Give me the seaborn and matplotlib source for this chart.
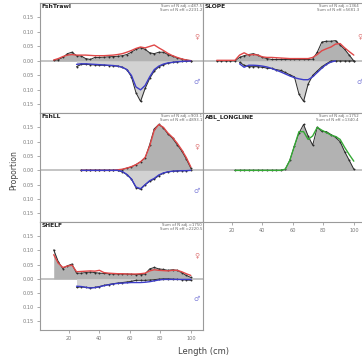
import numpy as np
import pandas as pd
import matplotlib
matplotlib.use("Agg")
import matplotlib.pyplot as plt
import seaborn as sns

sns.set_theme(style="white")
plt.rcParams['font.family'] = ['DejaVu Sans']

# ---------------- data ----------------
lengths = [10, 13, 16, 19, 22, 25, 28, 31, 34, 37, 40, 43, 46, 49, 52, 55,
           58, 61, 64, 67, 70, 73, 76, 79, 82, 85, 88, 91, 94, 97, 100]
N = None

trawl_f_obs = [0.002, 0.004, 0.012, 0.025, 0.030, 0.018, 0.017, 0.008, 0.005, 0.012, 0.012,
               0.013, 0.014, 0.015, 0.016, 0.018, 0.022, 0.030, 0.040, 0.046, 0.040, 0.028,
               0.025, 0.030, 0.030, 0.022, 0.016, 0.011, 0.006, 0.003, 0.001]
trawl_f_exp = [0.003, 0.008, 0.015, 0.020, 0.022, 0.020, 0.020, 0.020, 0.019, 0.018, 0.018,
               0.018, 0.019, 0.020, 0.022, 0.025, 0.030, 0.036, 0.043, 0.048, 0.045, 0.050,
               0.055, 0.045, 0.036, 0.026, 0.018, 0.012, 0.007, 0.003, 0.001]
trawl_m_obs = [N, N, N, N, N, -0.020, -0.012, -0.012, -0.013, -0.014, -0.015, -0.015, -0.016,
               -0.017, -0.018, -0.022, -0.030, -0.055, -0.110, -0.140, -0.095, -0.060, -0.035,
               -0.020, -0.013, -0.008, -0.005, -0.003, -0.002, -0.001, 0.000]
trawl_m_exp = [N, N, N, N, N, -0.012, -0.010, -0.010, -0.011, -0.012, -0.013, -0.014, -0.015,
               -0.016, -0.018, -0.022, -0.030, -0.050, -0.090, -0.100, -0.085, -0.055, -0.030,
               -0.018, -0.011, -0.007, -0.005, -0.003, -0.002, -0.001, 0.000]

slope_f_obs = [0.0, 0.0, 0.0, 0.0, 0.0, 0.012, 0.018, 0.022, 0.025, 0.020, 0.012, 0.008, 0.005,
               0.005, 0.005, 0.005, 0.005, 0.005, 0.005, 0.005, 0.005, 0.006, 0.030, 0.065,
               0.068, 0.068, 0.070, 0.055, 0.040, 0.020, 0.000]
slope_f_exp = [0.002, 0.002, 0.002, 0.002, 0.002, 0.020, 0.028, 0.020, 0.022, 0.020, 0.014,
               0.012, 0.012, 0.011, 0.010, 0.009, 0.008, 0.008, 0.008, 0.008, 0.008, 0.012,
               0.022, 0.035, 0.042, 0.048, 0.058, 0.060, 0.045, 0.032, 0.020]
slope_m_obs = [N, N, N, N, N, -0.005, -0.015, -0.020, -0.020, -0.020, -0.022, -0.025, -0.026,
               -0.030, -0.033, -0.040, -0.048, -0.055, -0.115, -0.140, -0.080, -0.050, -0.035,
               -0.020, -0.010, 0.000, 0.000, 0.000, 0.000, 0.000, 0.000]
slope_m_exp = [N, N, N, N, N, -0.010, -0.022, -0.015, -0.015, -0.016, -0.018, -0.021, -0.026,
               -0.032, -0.038, -0.045, -0.052, -0.058, -0.062, -0.065, -0.065, -0.055, -0.040,
               -0.025, -0.012, -0.004, 0.000, N, N, N, N]

ll_f_obs = [N, N, N, N, N, N, 0.0, 0.0, 0.0, 0.0, 0.0, 0.0, 0.0, 0.0, 0.001, 0.003, 0.008,
            0.012, 0.020, 0.030, 0.042, 0.090, 0.145, 0.160, 0.148, 0.127, 0.112, 0.090,
            0.068, 0.040, 0.008]
ll_f_exp = [N, N, N, N, N, N, 0.0, 0.0, 0.0, 0.0, 0.0, 0.0, 0.0, 0.0, 0.002, 0.004, 0.008,
            0.013, 0.020, 0.030, 0.045, 0.085, 0.140, 0.160, 0.150, 0.130, 0.115, 0.095,
            0.072, 0.045, 0.012]
ll_m_obs = [N, N, N, N, N, N, 0.0, 0.0, 0.0, 0.0, 0.0, 0.0, 0.0, 0.0, 0.0, -0.005, -0.015,
            -0.030, -0.060, -0.066, -0.050, -0.038, -0.030, -0.018, -0.010, -0.005, -0.003,
            -0.002, -0.001, -0.001, 0.000]
ll_m_exp = [N, N, N, N, N, N, 0.0, 0.0, 0.0, 0.0, 0.0, 0.0, 0.0, 0.0, 0.0, -0.004, -0.014,
            -0.030, -0.058, -0.064, -0.050, -0.036, -0.028, -0.016, -0.009, -0.005, -0.003,
            -0.002, -0.001, -0.001, 0.000]

abl_obs = [N, N, N, N, 0.0, 0.0, 0.0, 0.0, 0.0, 0.0, 0.0, 0.0, 0.0, 0.0, 0.0, 0.004, 0.035,
           0.085, 0.130, 0.160, 0.120, 0.088, 0.150, 0.136, 0.135, 0.125, 0.115, 0.100, 0.065,
           0.035, 0.004]
abl_exp = [N, N, N, N, 0.0, 0.0, 0.0, 0.0, 0.0, 0.0, 0.0, 0.0, 0.0, 0.0, 0.0, 0.004, 0.035,
           0.085, 0.135, 0.135, 0.108, 0.120, 0.150, 0.140, 0.132, 0.123, 0.118, 0.108, 0.080,
           0.055, 0.032]

shelf_f_obs = [0.102, 0.060, 0.036, 0.046, 0.052, 0.020, 0.020, 0.022, 0.024, 0.022, 0.020,
               0.019, 0.018, 0.017, 0.017, 0.017, 0.017, 0.016, 0.015, 0.015, 0.017, 0.035,
               0.040, 0.035, 0.033, 0.030, 0.032, 0.030, 0.022, 0.012, 0.005]
shelf_f_exp = [0.085, 0.055, 0.040, 0.045, 0.048, 0.025, 0.026, 0.027, 0.028, 0.027, 0.030,
               0.022, 0.020, 0.019, 0.018, 0.018, 0.017, 0.017, 0.017, 0.018, 0.020, 0.028,
               0.032, 0.030, 0.029, 0.028, 0.030, 0.030, 0.025, 0.018, 0.012]
shelf_m_obs = [N, N, N, N, N, -0.030, -0.028, -0.030, -0.032, -0.030, -0.027, -0.023, -0.020,
               -0.017, -0.015, -0.013, -0.011, -0.009, -0.005, -0.005, -0.005, -0.004, -0.003,
               -0.001, 0.000, 0.000, -0.001, -0.002, -0.003, -0.004, -0.005]
shelf_m_exp = [N, N, N, N, N, -0.026, -0.027, -0.030, -0.032, -0.031, -0.028, -0.024, -0.021,
               -0.018, -0.016, -0.015, -0.014, -0.013, -0.013, -0.013, -0.012, -0.010, -0.007,
               -0.004, -0.002, -0.002, -0.002, -0.002, -0.002, -0.002, -0.002]

panel_names = ["FshTrawl", "SLOPE", "FshLL", "ABL_LONGLINE", "SHELF"]
panel_notes = ["Sum of N adj.=487.5\nSum of N eff.=2231.2",
               "Sum of N adj.=1364\nSum of N eff.=5681.3",
               "Sum of N adj.=903.1\nSum of N eff.=4893.1",
               "Sum of N adj.=1752\nSum of N eff.=1340.4",
               "Sum of N adj.=1750\nSum of N eff.=2220.5"]
x_ticks = [20, 40, 60, 80, 100]
y_ticks = [-0.15, -0.10, -0.05, 0.00, 0.05, 0.10, 0.15]

# ---------------- drawing ----------------
W, H = 362, 364
fig = plt.figure(figsize=(W / 100, H / 100), dpi=100)


def rect(x0, y0, w, h):
    return [x0 / W, 1 - (y0 + h) / H, w / W, h / H]


OBS = "#2a2a2a"
RED = "#e04848"
BLUE = "#3c3cc8"
GREEN = "#35a835"
FILL_F = "#b2b2b2"
FILL_M = "#d2d2d2"


def series(vals):
    df = pd.DataFrame({"len": lengths, "val": np.array(vals, dtype=float)})
    return df.dropna()


def draw_pair(ax, obs, exp, fill, ecol):
    o = series(obs)
    e = series(exp)
    ax.fill_between(o["len"], 0, o["val"], color=fill, lw=0, zorder=1)
    sns.lineplot(data=o, x="len", y="val", ax=ax, color=OBS, lw=0.7, marker="o",
                 markersize=1.4, markeredgewidth=0, zorder=3, estimator=None)
    sns.lineplot(data=e, x="len", y="val", ax=ax, color=ecol, lw=1.0, zorder=4,
                 estimator=None)


def setup(ax, name, note, left, bottom_labels, sexed, note_x=0.995):
    ax.set_xlim(1, 108)
    ax.set_ylim(-0.18, 0.20)
    ax.axhline(0, color="#c4c4c4", lw=1.4, zorder=0.5)
    for s in ax.spines.values():
        s.set_color("#9a9a9a")
        s.set_linewidth(0.8)
    ax.set_xlabel("")
    ax.set_ylabel("")
    if left:
        ax.set_yticks(y_ticks)
        ax.set_yticklabels(["%.2f" % abs(v) for v in y_ticks])
        ax.tick_params(axis="y", left=True, length=2.5, width=0.5, colors="#888888",
                       labelsize=3.6, pad=2, labelcolor="#777777")
    else:
        ax.set_yticks([])
    ax.set_xticks(x_ticks)
    if bottom_labels:
        ax.tick_params(axis="x", bottom=True, length=2.5, width=0.5, colors="#888888",
                       labelsize=3.6, pad=2, labelcolor="#777777")
    else:
        ax.tick_params(axis="x", bottom=False, labelbottom=False)
    ax.text(0.012, 0.988, name, transform=ax.transAxes, ha="left", va="top",
            fontsize=4.3, fontweight="bold", color="#222222")
    ax.text(note_x, 0.988, note, transform=ax.transAxes, ha="right", va="top",
            fontsize=2.8, color="#666666", linespacing=1.0)
    if sexed:
        ax.text(104, 0.085, "\u2640", color="#e07b7b", fontsize=5, ha="center", va="center")
        ax.text(104, -0.072, "\u2642", color="#7c7cd8", fontsize=5, ha="center", va="center")


tops = [3, 113, 222]
heights = [110, 109, 108]
xl, xr, pw = 40, 203, 163
right_note_x = (W - 3 - xr) / pw

ax1 = fig.add_axes(rect(xl, tops[0], pw, heights[0]))
draw_pair(ax1, trawl_f_obs, trawl_f_exp, FILL_F, RED)
draw_pair(ax1, trawl_m_obs, trawl_m_exp, FILL_M, BLUE)
setup(ax1, panel_names[0], panel_notes[0], True, False, True)

ax2 = fig.add_axes(rect(xr, tops[0], pw, heights[0]))
draw_pair(ax2, slope_f_obs, slope_f_exp, FILL_F, RED)
draw_pair(ax2, slope_m_obs, slope_m_exp, FILL_M, BLUE)
setup(ax2, panel_names[1], panel_notes[1], False, False, True, right_note_x)

ax3 = fig.add_axes(rect(xl, tops[1], pw, heights[1]))
draw_pair(ax3, ll_f_obs, ll_f_exp, FILL_F, RED)
draw_pair(ax3, ll_m_obs, ll_m_exp, FILL_M, BLUE)
setup(ax3, panel_names[2], panel_notes[2], True, False, True)

ax4 = fig.add_axes(rect(xr, tops[1], pw, heights[1]))
draw_pair(ax4, abl_obs, abl_exp, FILL_F, GREEN)
setup(ax4, panel_names[3], panel_notes[3], False, True, False, right_note_x)

ax5 = fig.add_axes(rect(xl, tops[2], pw, heights[2]))
draw_pair(ax5, shelf_f_obs, shelf_f_exp, FILL_F, RED)
draw_pair(ax5, shelf_m_obs, shelf_m_exp, FILL_M, BLUE)
setup(ax5, panel_names[4], panel_notes[4], True, True, True)

fig.text(14 / W, 1 - 170 / H, "Proportion", rotation=90, ha="center", va="center",
         fontsize=5.5, color="#444444")
fig.text(204 / W, 1 - 352 / H, "Length (cm)", ha="center", va="center",
         fontsize=6, color="#444444")

fig.savefig("out.png", dpi=100)
